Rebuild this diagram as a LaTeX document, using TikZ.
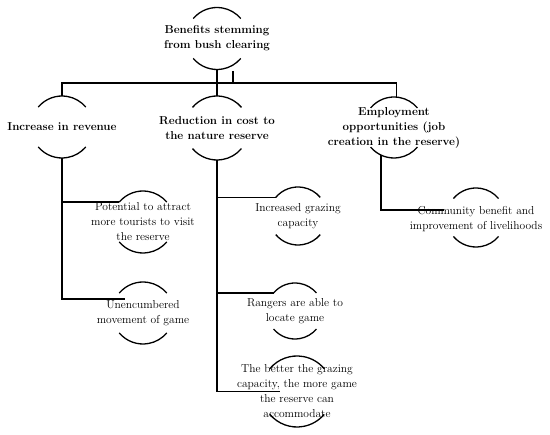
\documentclass[tikz,border=0pt]{standalone}
\tikzset{
  ring/.style={circle, minimum size=2*#1, inner sep=0pt, outer sep=0pt},
  head/.style={font=\fontsize{11.5}{15}\selectfont\bfseries, align=center},
  leaf/.style={font=\fontsize{11.5}{15}\selectfont, align=center},
}
\begin{document}
\begin{tikzpicture}[x=1pt,y=1pt,line width=1.3pt]
				\useasboundingbox (0,0) rectangle (550,-435);
				% Bubbles
				\foreach \name/\x/\y/\r in {root/217/-38.5/31, rev/62/-127/31, cost/217/-128/32,
					emp/394/-127.5/30.5, tour/143/-222/31, game/143/-313/31, graze/298/-216/29,
					rang/295/-311/28, accom/297/-391.5/35.5, comm/476/-217.5/29.5}{
					\node[ring=\r] (\name) at (\x,\y) {};
				}
				
				% Texts
				\node[head] (root-t) at (root) {Benefits stemming\\from bush clearing};
				\node[head] (rev-t) at (rev) {Increase in revenue};
				\node[head] (cost-t) at (cost) {Reduction in cost to\\the nature reserve};
				\node[head] (emp-t) at (emp) {Employment\\opportunities (job\\creation in the reserve)};
				\node[leaf] (tour-t) at (tour) {Potential to attract\\more tourists to visit\\the reserve};
				\node[leaf] (game-t) at (game) {Unencumbered\\movement of game};
				\node[leaf] (graze-t) at (graze) {Increased grazing\\capacity};
				\node[leaf] (rang-t) at (rang) {Rangers are able to\\locate game};
				\node[leaf] (accom-t) at (accom) {The better the grazing\\capacity, the more game\\the reserve can\\accommodate};
				\node[leaf] (comm-t) at ([yshift=-2pt]comm) {Community benefit and\\improvement of livelihoods};
				
				% Caps above and below
				\foreach \name/\r in {root/31, rev/31, cost/32, emp/30.5, tour/31, game/31,
					graze/29, rang/28, accom/35.5, comm/29.5}{
					\draw (\name.140) arc[start angle=140, end angle=40, radius=\r];
					\draw (\name.220) arc[start angle=220, end angle=320, radius=\r];
				}
				
				% Top level
				\coordinate (bus) at (217,-83);
				\coordinate (tick) at (233,-71);
				\draw (root.south) -- (cost.north);
				\draw (rev.north) |- (bus) -| (emp.85);
				\draw (tick) -- (tick |- bus);
				
				% Revenue
				\draw (rev.south) |- ([xshift=10pt]game.153);
				\draw (rev.south |- tour.140) -- (tour.140);
				
				% Cost
				\draw (cost.south) |- ([xshift=18pt]accom.west);
				\draw (cost.south |- graze.140) -- (graze.140);
				\draw (cost.south |- rang.140) -- (rang.140);
				
				% Employment
				\draw (emp.245) |- ([xshift=-4pt]comm.165);
			\end{tikzpicture}
\end{document}
